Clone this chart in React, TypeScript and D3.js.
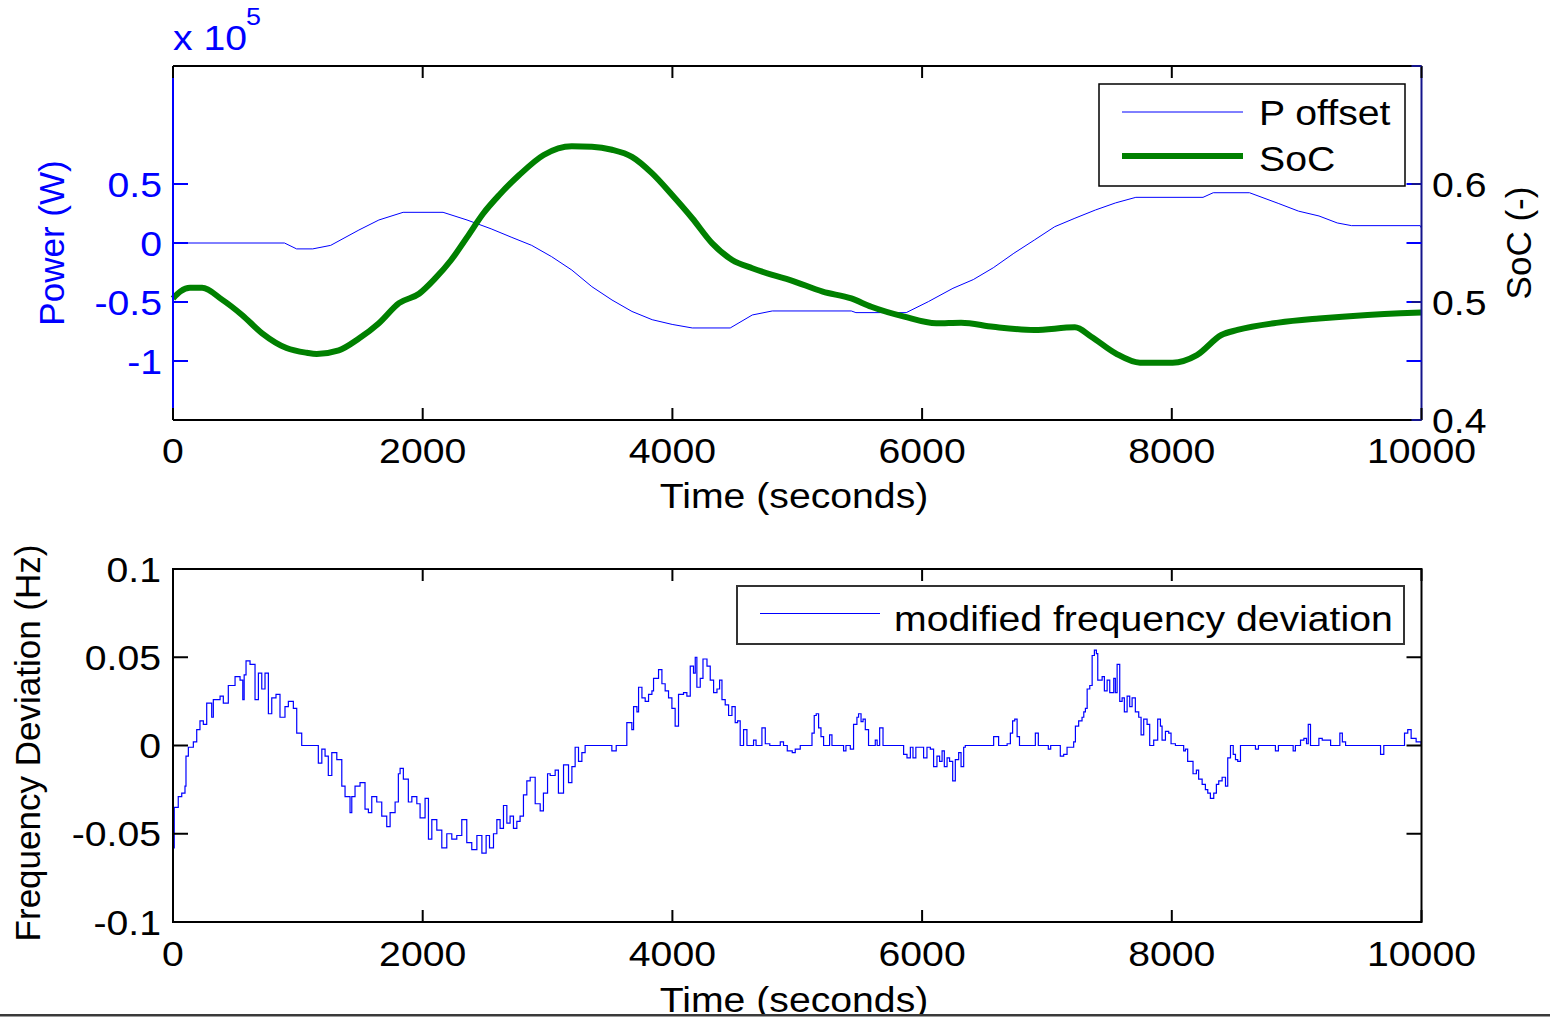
import { useMemo } from "react";
import * as d3 from "d3";

const W = 1550;
const H = 1018;
const FONT = "Arial, 'Liberation Sans', Helvetica, sans-serif";
const FS = 35;
const SX = 1.12; // the exported figure is stretched a little sideways

const BLUE = "#0000ff";
const GREEN = "#008000";
const NAVY = "#14148c";

// top panel: P offset (x 10^5 W) and SoC (-)
const powerTime = [0, 893, 990, 1119, 1263, 1489, 1649, 1843, 2163, 2355, 2548, 2708, 2873, 3033, 3194, 3355, 3516, 3676, 3838, 3998, 4159, 4463, 4640, 4800, 5433, 5470, 5873, 6050, 6247, 6410, 6570, 6735, 6899, 7062, 7224, 7389, 7550, 7712, 8250, 8332, 8622, 8852, 9015, 9179, 9325, 9440, 9990, 10000];
const powerValue = [0, 0, -0.05, -0.05, -0.02, 0.11, 0.195, 0.26, 0.26, 0.195, 0.12, 0.05, -0.02, -0.116, -0.229, -0.37, -0.483, -0.58, -0.65, -0.69, -0.72, -0.72, -0.61, -0.576, -0.576, -0.59, -0.59, -0.497, -0.384, -0.31, -0.21, -0.087, 0.025, 0.138, 0.21, 0.28, 0.34, 0.387, 0.387, 0.426, 0.426, 0.336, 0.27, 0.229, 0.17, 0.147, 0.147, 0.125];

const socTime = [0, 60, 136, 233, 393, 553, 714, 909, 1070, 1151, 1328, 1489, 1649, 1810, 1971, 2100, 2228, 2356, 2485, 2613, 2773, 2969, 3194, 3355, 3516, 3676, 3838, 3998, 4159, 4319, 4479, 4640, 4800, 4944, 5204, 5433, 5593, 5857, 6114, 6312, 6570, 6899, 7224, 7355, 7550, 7745, 8006, 8201, 8397, 8526, 8854, 9179, 9567, 9830, 10000];
const socValue = [0.503, 0.509, 0.512, 0.512, 0.502, 0.489, 0.4735, 0.461, 0.457, 0.456, 0.459, 0.469, 0.482, 0.499, 0.507, 0.52, 0.5356, 0.555, 0.575, 0.5907, 0.6076, 0.6246, 0.632, 0.6316, 0.629, 0.623, 0.609, 0.5907, 0.571, 0.5497, 0.5356, 0.5286, 0.523, 0.5186, 0.5088, 0.503, 0.496, 0.4876, 0.482, 0.4825, 0.479, 0.4763, 0.4785, 0.4706, 0.4565, 0.4486, 0.4486, 0.455, 0.472, 0.4763, 0.4825, 0.486, 0.489, 0.4904, 0.491];

// bottom panel: modified frequency deviation (Hz), held between samples
const freqTime = [0, 10, 42, 70, 96, 104, 123, 163, 190, 216, 243, 270, 310, 323, 377, 403, 443, 497, 537, 559, 570, 585, 617, 657, 684, 711, 737, 764, 791, 825, 857, 897, 924, 964, 991, 1031, 1164, 1192, 1218, 1244, 1272, 1312, 1352, 1378, 1418, 1432, 1458, 1498, 1538, 1565, 1592, 1632, 1672, 1712, 1739, 1779, 1805, 1819, 1845, 1885, 1913, 1953, 1979, 2019, 2046, 2073, 2113, 2153, 2193, 2233, 2273, 2313, 2353, 2393, 2434, 2474, 2508, 2535, 2567, 2594, 2620, 2647, 2674, 2700, 2727, 2754, 2780, 2807, 2834, 2861, 2901, 2941, 2967, 3000, 3021, 3061, 3087, 3128, 3168, 3195, 3221, 3248, 3275, 3301, 3515, 3550, 3635, 3675, 3689, 3716, 3729, 3756, 3782, 3809, 3836, 3849, 3889, 3916, 3942, 3969, 3996, 4022, 4049, 4089, 4116, 4143, 4169, 4183, 4196, 4223, 4245, 4277, 4303, 4330, 4357, 4378, 4397, 4423, 4450, 4477, 4503, 4522, 4543, 4570, 4597, 4650, 4670, 4717, 4744, 4780, 4864, 4890, 4920, 4960, 4984, 5024, 5118, 5136, 5152, 5171, 5190, 5211, 5259, 5278, 5371, 5390, 5425, 5451, 5478, 5491, 5511, 5527, 5545, 5571, 5625, 5640, 5660, 5687, 5852, 5879, 5906, 5927, 5950, 6012, 6039, 6066, 6092, 6119, 6140, 6160, 6178, 6200, 6220, 6245, 6266, 6293, 6312, 6333, 6346, 6573, 6613, 6681, 6707, 6725, 6742, 6761, 6780, 6907, 6931, 7011, 7030, 7107, 7134, 7161, 7214, 7228, 7254, 7281, 7295, 7308, 7322, 7343, 7362, 7380, 7396, 7407, 7442, 7460, 7482, 7503, 7535, 7548, 7562, 7583, 7602, 7620, 7642, 7663, 7682, 7708, 7735, 7754, 7775, 7802, 7823, 7855, 7887, 7909, 7922, 7949, 7975, 7994, 8029, 8095, 8109, 8127, 8149, 8170, 8197, 8215, 8243, 8269, 8288, 8309, 8336, 8357, 8376, 8403, 8430, 8448, 8470, 8492, 8510, 8528, 8550, 8670, 8694, 8830, 8854, 8972, 8990, 9031, 9058, 9079, 9093, 9111, 9178, 9205, 9272, 9346, 9366, 9392, 9672, 9698, 9864, 9890, 9917, 9957, 9997, 10000];
const freqValue = [-0.058, -0.035, -0.029, -0.027, -0.023, -0.006, -0.001, 0.002, 0.009, 0.014, 0.012, 0.024, 0.016, 0.026, 0.028, 0.024, 0.034, 0.039, 0.037, 0.026, 0.04, 0.048, 0.046, 0.026, 0.041, 0.032, 0.041, 0.018, 0.027, 0.029, 0.016, 0.022, 0.025, 0.021, 0.007, 0, -0.01, -0.002, -0.006, -0.017, -0.004, -0.008, -0.023, -0.029, -0.038, -0.029, -0.023, -0.021, -0.036, -0.038, -0.029, -0.032, -0.04, -0.046, -0.038, -0.032, -0.016, -0.013, -0.019, -0.032, -0.029, -0.033, -0.041, -0.03, -0.053, -0.042, -0.048, -0.058, -0.05, -0.053, -0.051, -0.042, -0.055, -0.059, -0.051, -0.061, -0.051, -0.058, -0.05, -0.042, -0.047, -0.034, -0.044, -0.04, -0.047, -0.043, -0.04, -0.028, -0.02, -0.018, -0.033, -0.037, -0.027, -0.016, -0.017, -0.014, -0.027, -0.011, -0.021, -0.012, -0.001, -0.009, -0.004, 0, -0.003, 0, 0.013, 0.009, 0.022, 0.019, 0.033, 0.027, 0.025, 0.029, 0.031, 0.038, 0.043, 0.035, 0.031, 0.027, 0.021, 0.011, 0.029, 0.03, 0.028, 0.045, 0.041, 0.05, 0.033, 0.038, 0.049, 0.045, 0.037, 0.03, 0.032, 0.037, 0.026, 0.023, 0.017, 0.022, 0.013, 0.014, 0, 0.009, 0, 0.003, 0, 0.01, 0.001, 0, 0.002, 0, -0.003, -0.004, -0.002, 0, 0.007, 0.017, 0.018, 0.01, 0.005, 0, 0.006, 0, -0.003, 0, -0.002, 0.012, 0.016, 0.018, 0.0135, 0.015, 0.009, 0, 0.003, 0, 0.01, 0, -0.005, -0.007, -0.001, -0.007, -0.001, -0.007, -0.001, -0.002, -0.012, -0.006, -0.009, -0.003, -0.012, -0.007, -0.009, -0.02, -0.008, -0.004, -0.012, -0.001, 0, 0.005, 0, 0.001, 0.007, 0.014, 0.015, 0.005, 0, 0.007, 0, -0.002, 0, -0.006, -0.005, -0.001, 0.002, 0.011, 0.014, 0.016, 0.019, 0.021, 0.032, 0.034, 0.051, 0.054, 0.052, 0.037, 0.039, 0.031, 0.037, 0.03, 0.038, 0.03, 0.046, 0.025, 0.027, 0.019, 0.028, 0.022, 0.027, 0.019, 0.016, 0.006, 0.015, 0.012, 0, 0.003, 0.015, 0.011, 0.003, 0.008, 0.007, 0.001, 0, -0.003, -0.002, -0.009, -0.009, -0.016, -0.014, -0.019, -0.022, -0.025, -0.027, -0.03, -0.027, -0.022, -0.02, -0.018, -0.023, -0.007, 0, -0.005, -0.008, -0.009, 0, -0.002, 0, -0.003, 0, -0.003, 0, 0.003, 0.004, 0.001, 0.012, 0, 0.004, 0.003, 0, 0.007, 0.002, 0, -0.005, 0, 0.007, 0.009, 0.004, 0.002, 0, 0];

const timeTicks = [0, 2000, 4000, 6000, 8000, 10000];
const powerTicks = [-1, -0.5, 0, 0.5];
const socTicks = [0.4, 0.5, 0.6, 0.7];
const socLabels = [0.4, 0.5, 0.6];
const freqTicks = [-0.1, -0.05, 0, 0.05, 0.1];

const TOP = { left: 173, right: 1421.5, top: 66, bottom: 420 };
const BOT = { left: 173, right: 1421.5, top: 569, bottom: 922 };
const XTICK = 12;
const YTICK = 15;

const Txt = ({ x, y, anchor = "start", fill = "#000", size = FS, children }: any) => (
  <text
    transform={`translate(${x},${y}) scale(${SX},1)`}
    textAnchor={anchor}
    fill={fill}
    fontSize={size}
    fontFamily={FONT}
  >
    {children}
  </text>
);

const VTxt = ({ x, y, fill = "#000", children }: any) => (
  <text
    transform={`translate(${x},${y}) rotate(-90)`}
    textAnchor="middle"
    fill={fill}
    fontSize={FS}
    fontFamily={FONT}
  >
    {children}
  </text>
);

const TopPanel = () => {
  const x = d3.scaleLinear().domain([0, 10000]).range([TOP.left, TOP.right]);
  const yP = d3.scaleLinear().domain([-1.5, 1.5]).range([TOP.bottom, TOP.top]);
  const yS = d3.scaleLinear().domain([0.4, 0.7]).range([TOP.bottom, TOP.top]);

  const pPath = useMemo(
    () => d3.line<number>().x((_, i) => x(powerTime[i])).y((d) => yP(d))(powerValue),
    []
  );
  const sPath = useMemo(
    () =>
      d3
        .line<number>()
        .x((_, i) => x(socTime[i]))
        .y((d) => yS(d))
        .curve(d3.curveMonotoneX)(socValue),
    []
  );

  return (
    <g>
      <path d={pPath || ""} fill="none" stroke={BLUE} strokeWidth={1} />
      <path d={sPath || ""} fill="none" stroke={GREEN} strokeWidth={6} strokeLinejoin="round" />

      {/* frame */}
      <line x1={TOP.left} x2={TOP.right} y1={TOP.top} y2={TOP.top} stroke="#000" strokeWidth={2} />
      <line x1={TOP.left} x2={TOP.right} y1={TOP.bottom} y2={TOP.bottom} stroke="#000" strokeWidth={2} />
      <line x1={TOP.left} x2={TOP.left} y1={TOP.top} y2={TOP.bottom} stroke={BLUE} strokeWidth={2} />
      <line x1={TOP.right} x2={TOP.right} y1={TOP.top} y2={TOP.bottom} stroke={NAVY} strokeWidth={2} />

      {timeTicks.map((t) => (
        <g key={t}>
          <line x1={x(t)} x2={x(t)} y1={TOP.bottom} y2={TOP.bottom - XTICK} stroke="#000" strokeWidth={2} />
          <line x1={x(t)} x2={x(t)} y1={TOP.top} y2={TOP.top + XTICK} stroke="#000" strokeWidth={2} />
          <Txt x={x(t)} y={463} anchor="middle">{t}</Txt>
        </g>
      ))}
      {powerTicks.map((v) => (
        <g key={v}>
          <line x1={TOP.left} x2={TOP.left + YTICK} y1={yP(v)} y2={yP(v)} stroke={BLUE} strokeWidth={2} />
          <line x1={TOP.right} x2={TOP.right - YTICK} y1={yP(v)} y2={yP(v)} stroke={BLUE} strokeWidth={2} />
          <Txt x={162} y={yP(v) + 12.5} anchor="end" fill={BLUE}>{String(v)}</Txt>
        </g>
      ))}
      {socTicks.map((v) => (
        <line key={v} x1={TOP.right} x2={TOP.right - 10} y1={yS(v)} y2={yS(v)} stroke={NAVY} strokeWidth={2} />
      ))}
      {socLabels.map((v) => (
        <Txt key={v} x={1432} y={yS(v) + 12.5}>{v.toFixed(1)}</Txt>
      ))}

      <Txt x={173} y={50} fill={BLUE}>x 10</Txt>
      <Txt x={246} y={25} fill={BLUE} size={24}>5</Txt>
      <VTxt x={64} y={243} fill={BLUE}>Power (W)</VTxt>
      <VTxt x={1531} y={243}>SoC (-)</VTxt>
      <Txt x={794} y={508} anchor="middle">Time (seconds)</Txt>

      {/* legend */}
      <rect x={1099} y={84} width={306} height={102} fill="#fff" stroke="#000" strokeWidth={1.5} />
      <line x1={1122} x2={1243} y1={112} y2={112} stroke={BLUE} strokeWidth={1} />
      <line x1={1122} x2={1243} y1={156} y2={156} stroke={GREEN} strokeWidth={6} />
      <Txt x={1259} y={124.5}>P offset</Txt>
      <Txt x={1259} y={171}>SoC</Txt>
    </g>
  );
};

const BottomPanel = () => {
  const x = d3.scaleLinear().domain([0, 10000]).range([BOT.left, BOT.right]);
  const y = d3.scaleLinear().domain([-0.1, 0.1]).range([BOT.bottom, BOT.top]);

  const fPath = useMemo(
    () =>
      d3
        .line<number>()
        .x((_, i) => x(freqTime[i]))
        .y((d) => y(d))
        .curve(d3.curveStepAfter)(freqValue),
    []
  );

  return (
    <g>
      <path d={fPath || ""} fill="none" stroke={BLUE} strokeWidth={1.2} />

      <rect
        x={BOT.left}
        y={BOT.top}
        width={BOT.right - BOT.left}
        height={BOT.bottom - BOT.top}
        fill="none"
        stroke="#000"
        strokeWidth={2}
      />
      {timeTicks.map((t) => (
        <g key={t}>
          <line x1={x(t)} x2={x(t)} y1={BOT.bottom} y2={BOT.bottom - XTICK} stroke="#000" strokeWidth={2} />
          <line x1={x(t)} x2={x(t)} y1={BOT.top} y2={BOT.top + XTICK} stroke="#000" strokeWidth={2} />
          <Txt x={x(t)} y={966} anchor="middle">{t}</Txt>
        </g>
      ))}
      {freqTicks.map((v) => (
        <g key={v}>
          <line x1={BOT.left} x2={BOT.left + YTICK} y1={y(v)} y2={y(v)} stroke="#000" strokeWidth={2} />
          <line x1={BOT.right} x2={BOT.right - YTICK} y1={y(v)} y2={y(v)} stroke="#000" strokeWidth={2} />
          <Txt x={161} y={y(v) + 12.5} anchor="end">{String(v)}</Txt>
        </g>
      ))}

      <VTxt x={40} y={743}>Frequency Deviation (Hz)</VTxt>
      <Txt x={794} y={1012} anchor="middle">Time (seconds)</Txt>

      {/* legend */}
      <rect x={737} y={586} width={667} height={58} fill="#fff" stroke="#333" strokeWidth={2} />
      <line x1={760} x2={880} y1={613.5} y2={613.5} stroke={BLUE} strokeWidth={1} />
      <Txt x={894} y={631}>modified frequency deviation</Txt>
    </g>
  );
};

const App = () => {
  return (
    <div style={{ position: "absolute", left: 0, top: 0, background: "#fff" }}>
      <svg width={W} height={H} style={{ display: "block" }}>
        <rect width={W} height={H} fill="#fff" />
        <TopPanel />
        <BottomPanel />
        {/* page edge under the figure */}
        <rect x={0} y={1016} width={W} height={H - 1016} fill="#fff" />
        <rect x={0} y={1014} width={W} height={2.5} fill="#3a3a3a" />
      </svg>
    </div>
  );
};

export default App;
